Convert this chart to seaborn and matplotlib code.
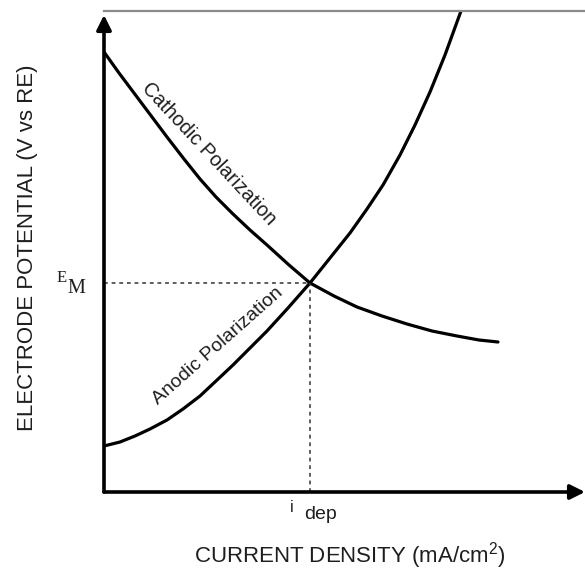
import numpy as np
import pandas as pd
import matplotlib
matplotlib.use("Agg")
import matplotlib.pyplot as plt
import seaborn as sns

# ---- data (schematic; arbitrary units) ----
cathodic_i = [0, 15, 30, 45, 63, 80, 96, 112, 129, 146, 163, 185, 206,
              230, 253, 278, 303, 328, 353, 375, 394]
cathodic_E = [440, 419, 399, 379, 355, 333, 313, 295, 278, 262, 247, 227, 209,
              196, 185, 176, 168, 161, 156, 152, 150]
anodic_i = [0, 16, 31, 46, 63, 79, 96, 112, 129, 146, 163, 184, 206,
            226, 246, 263, 279, 296, 311, 326, 341, 357]
anodic_E = [46, 50, 56, 63, 72, 83, 96, 111, 127, 144, 161, 184, 209,
            234, 259, 283, 307, 337, 367, 400, 437, 481]
E_M = 209
i_dep = 206
x_max = 481
y_max = 481

sns.set_theme(style="white")
plt.rcParams['font.family'] = ['Liberation Sans', 'DejaVu Sans']
plt.rcParams['mathtext.fontset'] = 'custom'
plt.rcParams['mathtext.rm'] = 'Liberation Sans'
plt.rcParams['mathtext.it'] = 'Liberation Sans'

W, H = 585, 572
fig = plt.figure(figsize=(W / 100, H / 100), dpi=100)
fig.patch.set_facecolor("white")
ax = fig.add_axes([104 / W, 1 - 492 / H, 481 / W, 481 / H])

df = pd.concat([
    pd.DataFrame({"i": cathodic_i, "E": cathodic_E, "curve": "Cathodic"}),
    pd.DataFrame({"i": anodic_i, "E": anodic_E, "curve": "Anodic"}),
])
sns.lineplot(data=df, x="i", y="E", units="curve", estimator=None, sort=False,
             color="black", lw=2.3, ax=ax, legend=False)

# dashed guide lines
ax.plot([0, i_dep], [E_M, E_M], ls=(0, (2.5, 2.5)), lw=1.1, color="#333333")
ax.plot([i_dep, i_dep], [0, E_M], ls=(0, (2.5, 2.5)), lw=1.1, color="#333333")

ax.set_xlim(0, x_max)
ax.set_ylim(0, y_max)
ax.set_xticks([])
ax.set_yticks([])
ax.set_xlabel("")
ax.set_ylabel("")
for s in ["left", "bottom", "right"]:
    ax.spines[s].set_visible(False)
ax.spines["top"].set_visible(True)
ax.spines["top"].set_color("#8a8a8a")
ax.spines["top"].set_linewidth(1.6)

# axes with arrows
ax.annotate("", xy=(x_max, 0), xytext=(0, 0), xycoords="data",
            arrowprops=dict(arrowstyle="-|>", lw=2.6, color="black",
                            mutation_scale=22, shrinkA=0, shrinkB=0),
            annotation_clip=False)
ax.annotate("", xy=(0, y_max - 4), xytext=(0, 0), xycoords="data",
            arrowprops=dict(arrowstyle="-|>", lw=2.6, color="black",
                            mutation_scale=22, shrinkA=0, shrinkB=0),
            annotation_clip=False)

def px(x, y):
    return x / W, 1 - y / H

tc = "#1e1e1e"
fig.text(*px(209, 154), "Cathodic Polarization", rotation=-47, ha="center",
         va="center", fontsize=14.2, color=tc, rotation_mode="anchor")
fig.text(*px(218, 346), "Anodic Polarization", rotation=41.5, ha="center",
         va="center", fontsize=14, color=tc, rotation_mode="anchor")

fig.text(*px(67, 282), "E", ha="right", va="baseline", fontsize=12,
         family="Liberation Serif", color=tc)
fig.text(*px(67, 293), "M", ha="left", va="baseline", fontsize=14.5,
         family="Liberation Serif", color=tc)

fig.text(*px(292, 512), "i", ha="center", va="baseline", fontsize=11.5, color=tc)
fig.text(*px(304, 519), "dep", ha="left", va="baseline", fontsize=14, color=tc)

fig.text(*px(350, 556), "CURRENT DENSITY (mA/cm$^{2}$)", ha="center",
         va="center", fontsize=16, color=tc)
fig.text(*px(28, 248), "ELECTRODE POTENTIAL (V vs RE)", ha="center",
         va="center", rotation=90, fontsize=16, color=tc)

fig.savefig("out.png", dpi=100, facecolor="white")
